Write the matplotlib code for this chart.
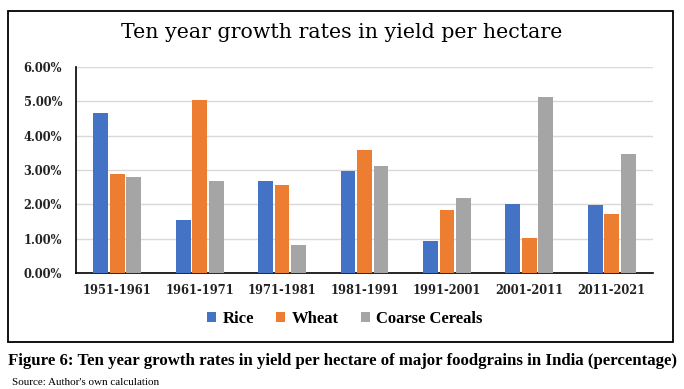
import matplotlib.pyplot as plt
import numpy as np
from matplotlib.patches import Rectangle
from matplotlib.ticker import FuncFormatter, MultipleLocator

decades = ["1951-1961", "1961-1971", "1971-1981", "1981-1991",
           "1991-2001", "2001-2011", "2011-2021"]
rice = [4.67, 1.54, 2.68, 2.98, 0.94, 2.02, 1.98]
wheat = [2.87, 5.05, 2.55, 3.58, 1.84, 1.03, 1.73]
coarse = [2.80, 2.68, 0.82, 3.11, 2.19, 5.12, 3.47]

series = [("Rice", rice, "#4472C4"),
          ("Wheat", wheat, "#ED7D31"),
          ("Coarse Cereals", coarse, "#A5A5A5")]

fig = plt.figure(figsize=(6.84, 3.89), dpi=100)
ax = fig.add_axes([76 / 684, 1 - 273 / 389, (653 - 76) / 684, (273 - 67) / 389])

x = np.arange(len(decades))
for i, (name, vals, color) in enumerate(series):
    ax.bar(x + (i - 1) * 0.2, vals, width=0.18, color=color, label=name, zorder=3)

ax.set_xlim(-0.5, len(decades) - 0.5)
ax.set_ylim(0, 6)
ax.yaxis.set_major_locator(MultipleLocator(1))
ax.yaxis.set_major_formatter(FuncFormatter(lambda v, _: f"{v:.2f}%"))
ax.set_xticks(x)
ax.set_xticklabels(decades)
ax.grid(axis="y", color="#d9d9d9", linewidth=1.0, zorder=0)
ax.tick_params(axis="y", length=0, pad=10)
ax.tick_params(axis="x", length=0, pad=8)
for lbl in ax.get_xticklabels() + ax.get_yticklabels():
    lbl.set_fontfamily("DejaVu Serif")
    lbl.set_fontweight("bold")
    lbl.set_fontsize(8.3)
    lbl.set_color("#222222")
for s in ["top", "right"]:
    ax.spines[s].set_visible(False)
ax.spines["left"].set_linewidth(1.2)
ax.spines["bottom"].set_linewidth(1.2)

fig.text(342 / 684, 1 - 32 / 389, "Ten year growth rates in yield per hectare",
         ha="center", va="center", fontsize=14.8, family="DejaVu Serif")

leg = fig.legend(loc="center", bbox_to_anchor=(345 / 684, 1 - 319 / 389), ncol=3,
                 frameon=False, handlelength=0.55, handleheight=0.55,
                 handletextpad=0.4, columnspacing=1.3,
                 prop={"family": "Liberation Serif", "weight": "bold", "size": 12})

fig.patches.append(Rectangle((8 / 684, 1 - 342 / 389), 665 / 684, 331 / 389,
                             transform=fig.transFigure, fill=False,
                             edgecolor="black", linewidth=1.3))

fig.text(8 / 684, 1 - 361 / 389,
         "Figure 6: Ten year growth rates in yield per hectare of major foodgrains in India (percentage)",
         ha="left", va="center", fontsize=12.1, family="Liberation Serif", weight="bold")
fig.text(12 / 684, 1 - 378 / 389, "Source: Author's own calculation",
         ha="left", va="top", fontsize=8, family="Liberation Serif")

fig.savefig("out.png", dpi=100)
